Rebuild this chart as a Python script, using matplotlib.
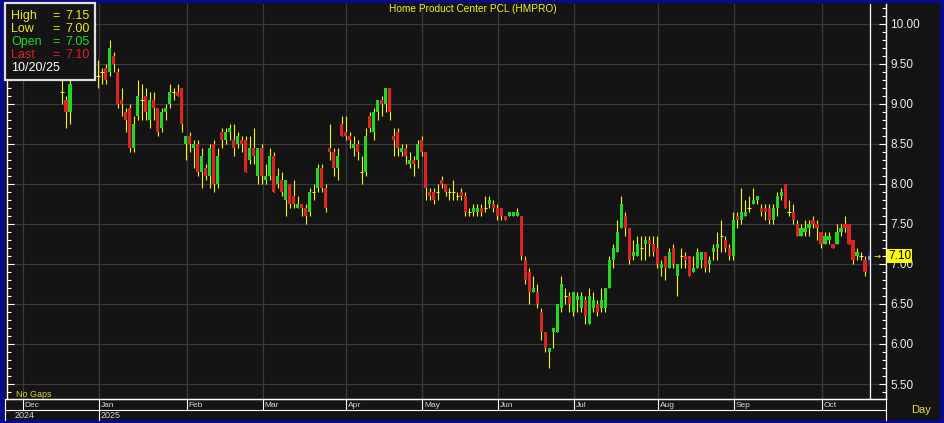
import numpy as np
import matplotlib
matplotlib.use("Agg")
import matplotlib.pyplot as plt
import matplotlib.transforms as mtransforms
from matplotlib.patches import Rectangle
from matplotlib.lines import Line2D

# daily OHLC, late Nov 2024 .. 20 Oct 2025, one row of values per month
opens = [
    9.65, 9.60, 9.55, 9.60,
    9.75, 9.70, 9.65, 9.70, 9.75, 9.70, 9.60, 9.55, 9.45, 9.15, 9.05, 8.90, 9.45, 9.55, 9.65, 9.60, 9.55, 9.50, 9.35,
    9.40, 9.45, 9.40, 9.60, 9.40, 9.05, 8.90, 8.95, 8.45, 8.85, 9.05, 9.10, 8.80, 9.05, 8.95, 8.70, 8.90, 9.00, 9.15, 9.15, 9.20, 8.50,
    8.60, 8.45, 8.50, 8.15, 8.20, 8.10, 8.50, 8.00, 8.65, 8.55, 8.65, 8.55, 8.50, 8.55, 8.55, 8.30, 8.45, 8.10, 8.45,
    8.05, 8.10, 8.35, 8.00, 8.05, 7.80, 8.00, 7.85, 7.70, 7.75, 7.70, 7.65, 7.90, 7.95, 8.20, 7.95, 8.45, 8.40, 8.20, 8.75, 8.65,
    8.60, 8.45, 8.50, 8.15, 8.15, 8.85, 8.65, 8.90, 9.05, 9.00, 9.20, 8.60, 8.65, 8.40, 8.45, 8.25, 8.30, 8.30, 8.55,
    8.40, 7.90, 7.90, 7.90, 8.05, 8.00, 7.90, 7.90, 7.85, 7.90, 7.85, 7.65, 7.65, 7.65, 7.70, 7.70, 7.75, 7.75, 7.70,
    7.70, 7.60, 7.60, 7.60, 7.60, 7.60, 7.05, 6.90, 6.65, 6.65, 6.40, 6.15, 5.90, 6.15, 6.15, 6.45, 6.60, 6.60, 6.40,
    6.55, 6.45, 6.55, 6.25, 6.45, 6.50, 6.45, 6.45, 6.70, 7.05, 7.15, 7.45, 7.60, 7.45, 7.10, 7.10, 7.20, 7.25, 7.30, 7.25, 7.20,
    6.95, 7.10, 6.95, 7.20, 6.85, 7.10, 7.10, 7.10, 6.90, 6.95, 7.05, 7.15, 7.00, 7.15, 7.20, 7.35, 7.30, 7.20, 7.10,
    7.60, 7.55, 7.60, 7.70, 7.75, 7.80, 7.70, 7.70, 7.70, 7.55, 7.70, 7.85, 8.00, 7.65, 7.65, 7.50, 7.35, 7.40, 7.45, 7.55, 7.50, 7.40,
    7.25, 7.30, 7.25, 7.25, 7.40, 7.50, 7.50, 7.30, 7.10, 7.10, 7.05, 7.05,
]
highs = [
    9.75, 9.70, 9.65, 9.80,
    9.85, 9.80, 9.75, 9.80, 9.85, 9.75, 9.70, 9.60, 9.55, 9.30, 9.10, 9.30, 9.60, 9.70, 9.75, 9.70, 9.65, 9.60, 9.55,
    9.45, 9.50, 9.80, 9.65, 9.45, 9.20, 8.95, 9.00, 8.85, 9.30, 9.25, 9.20, 9.15, 9.15, 8.95, 8.95, 9.00, 9.25, 9.20, 9.25, 9.20, 8.60,
    8.65, 8.55, 8.55, 8.45, 8.25, 8.50, 8.55, 8.45, 8.70, 8.70, 8.75, 8.75, 8.65, 8.60, 8.60, 8.60, 8.70, 8.45, 8.50,
    8.25, 8.45, 8.40, 8.20, 8.15, 8.05, 8.00, 8.05, 7.85, 7.75, 7.75, 7.95, 8.00, 8.25, 8.25, 8.00, 8.75, 8.45, 8.45, 8.85, 8.85,
    8.65, 8.60, 8.55, 8.35, 8.70, 8.90, 8.95, 9.05, 9.10, 9.20, 9.20, 8.70, 8.70, 8.50, 8.50, 8.40, 8.35, 8.55, 8.60,
    8.40, 7.95, 7.95, 8.00, 8.10, 8.00, 7.95, 8.05, 7.90, 7.95, 7.90, 7.70, 7.75, 7.75, 7.75, 7.85, 7.85, 7.80, 7.75,
    7.70, 7.60, 7.65, 7.65, 7.70, 7.60, 7.10, 6.95, 6.85, 6.75, 6.45, 6.15, 5.95, 6.20, 6.50, 6.85, 6.70, 6.65, 6.65,
    6.65, 6.65, 6.60, 6.70, 6.65, 6.55, 6.70, 6.70, 7.10, 7.25, 7.55, 7.85, 7.65, 7.45, 7.30, 7.35, 7.35, 7.35, 7.35, 7.35, 7.35,
    7.05, 7.10, 7.20, 7.25, 7.00, 7.20, 7.15, 7.10, 7.10, 7.20, 7.15, 7.15, 7.10, 7.25, 7.40, 7.55, 7.35, 7.25, 7.65,
    7.65, 7.95, 7.80, 7.85, 7.95, 7.85, 7.75, 7.75, 7.75, 7.75, 7.90, 7.95, 8.00, 7.80, 7.75, 7.55, 7.50, 7.55, 7.55, 7.60, 7.55, 7.40,
    7.40, 7.40, 7.25, 7.50, 7.50, 7.60, 7.50, 7.30, 7.20, 7.15, 7.10, 7.15,
]
lows = [
    9.55, 9.50, 9.45, 9.55,
    9.65, 9.60, 9.55, 9.60, 9.65, 9.55, 9.50, 9.40, 9.40, 9.00, 8.70, 8.75, 9.40, 9.50, 9.55, 9.50, 9.45, 9.40, 9.20,
    9.25, 9.25, 9.35, 9.40, 8.95, 8.85, 8.65, 8.40, 8.40, 8.80, 8.80, 8.80, 8.70, 8.80, 8.60, 8.65, 8.80, 8.95, 9.05, 9.10, 8.65, 8.30,
    8.40, 8.20, 8.10, 7.95, 8.05, 7.95, 7.90, 7.95, 8.45, 8.50, 8.55, 8.35, 8.45, 8.40, 8.15, 8.25, 8.25, 8.00, 8.00,
    8.00, 8.05, 7.90, 7.95, 7.85, 7.60, 7.70, 7.70, 7.70, 7.60, 7.50, 7.60, 7.80, 7.90, 7.90, 7.65, 8.30, 8.10, 8.05, 8.60, 8.55,
    8.45, 8.35, 8.30, 8.00, 8.10, 8.65, 8.55, 8.80, 8.85, 8.90, 8.80, 8.35, 8.35, 8.35, 8.25, 8.20, 8.10, 8.20, 8.35,
    7.80, 7.80, 7.75, 7.80, 7.95, 7.85, 7.80, 7.80, 7.80, 7.80, 7.60, 7.60, 7.60, 7.60, 7.60, 7.65, 7.70, 7.65, 7.55,
    7.55, 7.55, 7.60, 7.60, 7.60, 7.05, 6.75, 6.50, 6.65, 6.45, 6.05, 5.90, 5.70, 5.95, 6.15, 6.40, 6.50, 6.40, 6.35,
    6.40, 6.40, 6.25, 6.25, 6.40, 6.35, 6.40, 6.40, 6.70, 6.95, 7.15, 7.45, 7.35, 7.00, 7.05, 7.10, 7.05, 7.05, 7.10, 7.10, 6.95,
    6.85, 6.80, 6.95, 6.95, 6.60, 6.95, 6.95, 6.85, 6.90, 6.95, 6.95, 6.90, 6.90, 7.05, 7.05, 7.15, 7.15, 7.05, 7.05,
    7.45, 7.50, 7.60, 7.65, 7.75, 7.75, 7.60, 7.55, 7.50, 7.50, 7.60, 7.80, 7.70, 7.60, 7.50, 7.35, 7.35, 7.35, 7.35, 7.45, 7.30, 7.20,
    7.25, 7.25, 7.20, 7.25, 7.35, 7.40, 7.25, 7.00, 7.05, 7.05, 6.85, 7.00,
]
closes = [
    9.60, 9.55, 9.60, 9.75,
    9.70, 9.65, 9.70, 9.75, 9.70, 9.60, 9.55, 9.45, 9.50, 9.15, 8.90, 9.25, 9.55, 9.65, 9.60, 9.55, 9.50, 9.45, 9.35,
    9.40, 9.30, 9.70, 9.50, 9.00, 9.00, 8.80, 8.45, 8.75, 9.10, 9.05, 8.90, 9.05, 8.95, 8.65, 8.90, 8.95, 9.15, 9.15, 9.10, 8.75, 8.60,
    8.50, 8.50, 8.15, 8.35, 8.10, 8.45, 8.00, 8.35, 8.55, 8.65, 8.70, 8.45, 8.60, 8.50, 8.15, 8.45, 8.35, 8.45, 8.10,
    8.10, 8.35, 7.90, 8.10, 7.90, 8.05, 7.75, 7.75, 7.75, 7.70, 7.60, 7.90, 7.90, 8.20, 7.95, 7.70, 8.40, 8.20, 8.35, 8.60, 8.60,
    8.55, 8.50, 8.40, 8.15, 8.60, 8.70, 8.90, 9.05, 9.00, 9.20, 8.90, 8.55, 8.45, 8.45, 8.35, 8.30, 8.25, 8.50, 8.40,
    7.95, 7.85, 7.80, 7.90, 8.00, 7.90, 7.90, 7.90, 7.85, 7.85, 7.65, 7.65, 7.70, 7.70, 7.65, 7.70, 7.80, 7.70, 7.60,
    7.60, 7.55, 7.65, 7.65, 7.65, 7.10, 6.80, 6.65, 6.70, 6.50, 6.15, 5.95, 5.95, 6.20, 6.50, 6.75, 6.60, 6.50, 6.65,
    6.60, 6.60, 6.35, 6.60, 6.55, 6.40, 6.55, 6.70, 7.05, 7.20, 7.40, 7.75, 7.45, 7.05, 7.15, 7.25, 7.20, 7.30, 7.25, 7.15, 7.00,
    7.00, 6.95, 7.15, 7.00, 7.00, 7.10, 7.05, 6.85, 6.95, 7.15, 7.15, 6.95, 7.05, 7.20, 7.25, 7.35, 7.20, 7.10, 7.55,
    7.55, 7.65, 7.65, 7.70, 7.80, 7.85, 7.65, 7.65, 7.55, 7.70, 7.85, 7.90, 7.70, 7.65, 7.55, 7.35, 7.45, 7.45, 7.50, 7.50, 7.45, 7.25,
    7.35, 7.35, 7.20, 7.40, 7.45, 7.45, 7.25, 7.05, 7.15, 7.10, 6.90, 7.10,
]

# trading days shown per month (first entry = tail of Nov 2024)
bars_per_month = [4, 19, 22, 19, 21, 19, 19, 19, 21, 19, 22, 12]
month_labels = ["", "Dec", "Jan", "Feb", "Mar", "Apr", "May", "Jun", "Jul", "Aug", "Sep", "Oct"]
price_ticks = [5.5, 6.0, 6.5, 7.0, 7.5, 8.0, 8.5, 9.0, 9.5, 10.0]
last_date = "10/20/25"
title = "Home Product Center PCL (HMPRO)"

plt.rcParams['font.family'] = ['Liberation Sans', 'DejaVu Sans']

W, H = 945, 423
BG = '#141414'
GRID = '#3a3a3a'
BLUE = '#0a0a8c'
YEL = '#f2f21e'
GREEN = '#22d822'
RED = '#e02222'


def fbox(x0, y0, x1, y1):
    # pixel box (origin top-left) -> figure rect
    return [x0 / W, 1 - y1 / H, (x1 - x0) / W, (y1 - y0) / H]


def fy(py):
    return 1 - py / H


fig = plt.figure(figsize=(W / 100, H / 100), dpi=100, facecolor=BLUE)
fig.add_artist(Rectangle((5 / W, fy(420)), 935 / W, 417 / H, transform=fig.transFigure,
                         facecolor=BG, edgecolor='none', zorder=-5))

ax = fig.add_axes(fbox(7, 4, 886, 399), facecolor=BG)

o = np.array(opens)
h = np.array(highs)
l = np.array(lows)
c = np.array(closes)
n = len(o)
x = np.arange(n)

normal = np.ones(n, bool)
normal[-1] = False  # last bar is the selected one
up = normal & (c > o + 1e-9)
dn = normal & (c < o - 1e-9)
flat = normal & ~up & ~dn

ax.vlines(x[normal], l[normal], h[normal], colors=YEL, lw=0.8, zorder=2)
ax.bar(x[up], (c - o)[up], bottom=o[up], width=0.8, color=GREEN, lw=0, zorder=3)
ax.bar(x[dn], (o - c)[dn], bottom=c[dn], width=0.8, color=RED, lw=0, zorder=3)
ax.hlines(o[flat], x[flat] - 0.42, x[flat] + 0.42, colors=YEL, lw=0.8, zorder=3)

# selected bar + cursor
ax.vlines(x[-1], l[-1], h[-1], colors='#1c1ca8', lw=2.4, zorder=4)
ax.bar(x[-1], c[-1] - o[-1], bottom=o[-1], width=0.5, color='#8c8c96', lw=0, zorder=5)
ax.axvline(x[-1] + 0.3, color='white', lw=0.9, zorder=6)

ax.set_xlim(-0.75, n + 3.25)
ax.set_ylim(5.3125, 10.25)

# grid
month_start = np.cumsum([0] + bars_per_month[:-1])
for ms, lab in zip(month_start, month_labels):
    if lab:
        ax.axvline(ms - 0.8, color=GRID, lw=0.9, zorder=1)
ax.set_yticks(price_ticks)
ax.set_yticklabels([f"{v:.2f}" for v in price_ticks])
ax.grid(axis='y', color=GRID, lw=0.9, zorder=1)
ax.set_axisbelow(True)
ax.yaxis.set_minor_locator(matplotlib.ticker.MultipleLocator(0.1))
ax.tick_params(axis='y', which='both', left=True, right=True, labelleft=False,
               labelright=True, direction='in', colors='white', labelcolor='#ececec',
               labelsize=8.5, pad=3)
ax.tick_params(axis='y', which='major', length=5, width=0.8)
ax.tick_params(axis='y', which='minor', length=3, width=0.8)
ax.tick_params(axis='x', bottom=False, labelbottom=False)
ax.spines['top'].set_visible(False)
for side in ('left', 'right', 'bottom'):
    ax.spines[side].set_color('white')
    ax.spines[side].set_linewidth(1)

# last price tag on the scale
ytr = mtransforms.blended_transform_factory(ax.transAxes, ax.transData)
ax.text(1.0, c[-1], f"{c[-1]:.2f}", transform=mtransforms.offset_copy(ytr, fig=fig, x=2, units='dots'),
        ha='left', va='center', fontsize=8.5, color='black', clip_on=False, zorder=8,
        bbox=dict(boxstyle='square,pad=0.08', fc='#ffff00', ec='none'))
ax.text(x[-1] + 2, c[-1], "→", ha='center', va='center', fontsize=6, color=YEL,
        family='DejaVu Sans', clip_on=False, zorder=8)

# date scale rows
blend = mtransforms.blended_transform_factory(ax.transData, fig.transFigure)
lab_tr = mtransforms.offset_copy(blend, fig=fig, x=2, units='dots')
for ms, lab in zip(month_start, month_labels):
    if not lab:
        continue
    fig.add_artist(Line2D([ms - 0.8, ms - 0.8], [fy(399), fy(410)], transform=blend,
                          color='white', lw=0.8))
    fig.text(ms - 0.8, fy(405), lab, transform=lab_tr, ha='left', va='center',
             fontsize=6, color='#d8d8d8')
jan = month_start[month_labels.index("Jan")] - 0.8
fig.add_artist(Line2D([jan, jan], [fy(410), fy(420)], transform=blend, color='white', lw=0.8))
fig.text(jan, fy(415.5), "2025", transform=lab_tr, ha='left', va='center', fontsize=6.5, color='#d8d8d8')
fig.text(15 / W, fy(415.5), "2024", ha='left', va='center', fontsize=6.5, color='#d8d8d8')

for (x0, y0, x1, y1) in [(5, 399, 886, 399), (5, 410, 886, 410), (5, 399, 5, 420), (886, 399, 886, 420)]:
    fig.add_artist(Line2D([x0 / W, x1 / W], [fy(y0), fy(y1)], transform=fig.transFigure,
                          color='white', lw=0.8))

fig.text(921 / W, fy(410), "Day", ha='center', va='center', fontsize=8, color='#e8e040')
fig.text(16 / W, fy(394), "No Gaps", ha='left', va='center', fontsize=6.5, color='#d8d830')
fig.text(473 / W, fy(9), title, ha='center', va='center', fontsize=7.3, color=YEL)

# info box for the selected bar
fig.add_artist(Rectangle((5 / W, fy(80)), 90 / W, 77 / H, transform=fig.transFigure,
                         facecolor=BG, edgecolor='#e0e0e0', lw=1.6, zorder=10))
rows = [("High", h[-1], '#e8e830'), ("Low", l[-1], '#e8e830'),
        ("Open", o[-1], GREEN), ("Last", c[-1], RED)]
for j, (name, val, col) in enumerate(rows):
    yy = fy(16 + 13 * j)
    fig.text(11 / W, yy, name, ha='left', va='center', fontsize=9, color=col, zorder=11)
    fig.text(52 / W, yy, "=", ha='left', va='center', fontsize=9, color=col, zorder=11)
    fig.text(65 / W, yy, f"{val:.2f}", ha='left', va='center', fontsize=9, color=col, zorder=11)
fig.text(11 / W, fy(68), last_date, ha='left', va='center', fontsize=9, color='white', zorder=11)

fig.savefig("out.png", dpi=100, facecolor=BLUE)
